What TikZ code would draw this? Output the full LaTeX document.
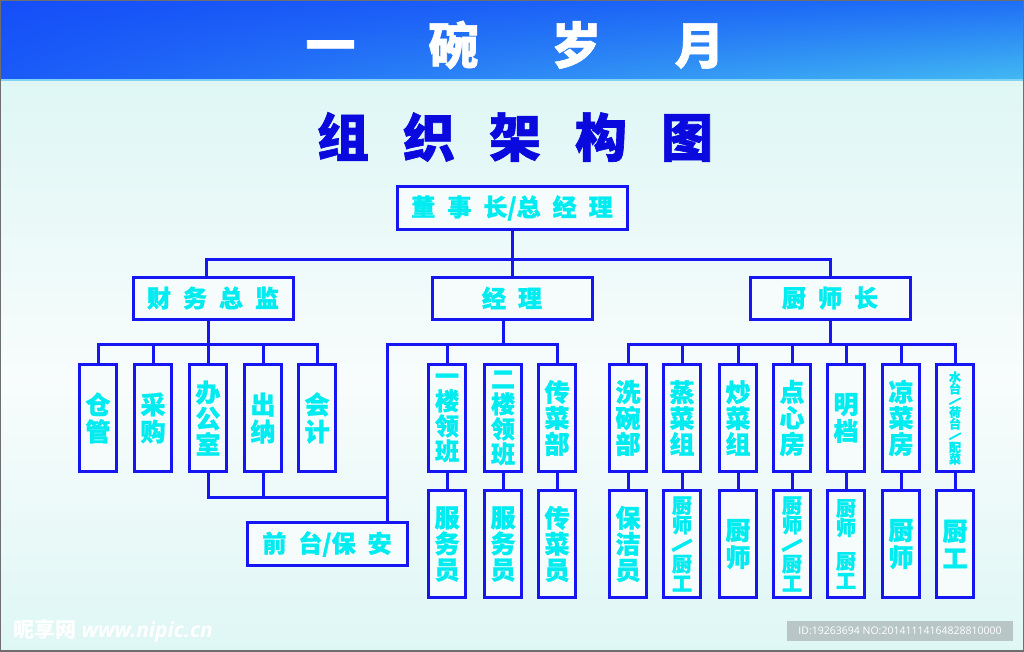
\documentclass[tikz,border=0pt]{standalone}
\usepackage{fontspec}
\usetikzlibrary{shadings}
\newfontfamily\cjk[BoldFeatures={FakeBold=1.2}]{Noto Sans CJK SC}
\newfontfamily\idfont{Open Sans}

\definecolor{lineblue}{RGB}{22,22,242}
\definecolor{txtcyan}{RGB}{0,236,240}
\definecolor{titleblue}{RGB}{10,10,222}
\definecolor{boxfill}{RGB}{246,252,252}
\definecolor{bgcyan}{RGB}{222,247,245}
\definecolor{bgwhite}{RGB}{248,252,252}
\definecolor{idgray}{RGB}{184,198,198}
\definecolor{bandul}{RGB}{22,78,248}
\definecolor{bandur}{RGB}{30,110,246}
\definecolor{bandll}{RGB}{26,90,248}
\definecolor{bandlr}{RGB}{66,186,242}
\definecolor{bandline}{RGB}{130,210,245}
\definecolor{edge}{RGB}{110,110,110}

\newcommand{\wfont}{\cjk\bfseries\fontsize{24}{26}\selectfont}
\newcommand{\tfont}{\cjk\bfseries\fontsize{25}{27}\selectfont}
% slash set in a vertical column
\newcommand{\vsl}[2]{\rotatebox{28}{\rule{#1}{#2}}}

\begin{document}
\begin{tikzpicture}[x=1pt, y=-1pt,
    conn/.style={draw=lineblue, line width=3pt},
    wbox/.style={draw=lineblue, line width=3pt, fill=boxfill, minimum width=160pt, minimum height=42pt, inner sep=0pt, text=txtcyan, font=\wfont},
    tbox/.style={draw=lineblue, line width=3pt, fill=boxfill, minimum width=37pt, minimum height=107pt, inner sep=0pt, text=txtcyan, font=\tfont, align=center}]
    \useasboundingbox (0,0) rectangle (1024,651);

    % background and banner
    \shade[top color=bgcyan, bottom color=bgwhite] (0,80) rectangle (1024,380);
    \shade[top color=bgwhite, bottom color=bgcyan] (0,380) rectangle (1024,651);
    \shade[upper left=bandul, upper right=bandur, lower left=bandll, lower right=bandlr] (0,0) rectangle (1024,80);
    \draw[bandline, line width=1.5pt] (0,80) -- (1024,80);
    \draw[edge, line width=2pt] (0,0) rectangle (1024,651);

    \node[text=white, font=\cjk\bfseries\fontsize{50}{50}\selectfont] (band) at (515,45) {一\hspace{73pt}碗\hspace{73pt}岁\hspace{73pt}月};
    \node[text=titleblue, font=\cjk\bfseries\fontsize{52}{52}\selectfont] (title) at (515,137) {组\hspace{34pt}织\hspace{34pt}架\hspace{34pt}构\hspace{34pt}图};

    % top levels
    \node[wbox, minimum width=230pt, minimum height=43pt] (boss) at (512,208) {董\hspace{12pt}事\hspace{12pt}长/总\hspace{12pt}经\hspace{12pt}理};
    \node[wbox] (fin) at (213,298) {财\hspace{12pt}务\hspace{12pt}总\hspace{12pt}监};
    \node[wbox] (mgr) at (512,298) {经\hspace{12pt}理};
    \node[wbox] (chef) at (830,298) {厨\hspace{12pt}师\hspace{12pt}长};

    % finance
    \node[tbox] (store) at (98,418) {仓\\管};
    \node[tbox] (buy) at (153,418) {采\\购};
    \node[tbox, font=\cjk\bfseries\fontsize{25}{26}\selectfont] (office) at (208,418) {办\\公\\室};
    \node[tbox] (cashier) at (263,418) {出\\纳};
    \node[tbox] (account) at (317,418) {会\\计};
    \node[wbox, minimum height=43pt] (desk) at (327,544) {前\hspace{12pt}台/保\hspace{12pt}安};

    % front of house
    \node[tbox, font=\cjk\bfseries\fontsize{24}{25}\selectfont] (floor1) at (447,418) {一\\楼\\领\\班};
    \node[tbox, font=\cjk\bfseries\fontsize{24}{25}\selectfont] (floor2) at (503,418) {二\\楼\\领\\班};
    \node[tbox, font=\cjk\bfseries\fontsize{25}{26}\selectfont] (serve) at (557,418) {传\\菜\\部};
    \node[tbox, font=\cjk\bfseries\fontsize{25}{26}\selectfont] (waiter1) at (447,544) {服\\务\\员};
    \node[tbox, font=\cjk\bfseries\fontsize{25}{26}\selectfont] (waiter2) at (503,544) {服\\务\\员};
    \node[tbox, font=\cjk\bfseries\fontsize{25}{26}\selectfont] (runner) at (557,544) {传\\菜\\员};

    % kitchen
    \node[tbox, font=\cjk\bfseries\fontsize{25}{26}\selectfont] (wash) at (628,418) {洗\\碗\\部};
    \node[tbox, font=\cjk\bfseries\fontsize{25}{26}\selectfont] (steam) at (682,418) {蒸\\菜\\组};
    \node[tbox, font=\cjk\bfseries\fontsize{25}{26}\selectfont] (stir) at (738,418) {炒\\菜\\组};
    \node[tbox, font=\cjk\bfseries\fontsize{25}{26}\selectfont] (dimsum) at (792,418) {点\\心\\房};
    \node[tbox] (open) at (846,418) {明\\档};
    \node[tbox, font=\cjk\bfseries\fontsize{25}{26}\selectfont] (cold) at (901,418) {凉\\菜\\房};
    \node[tbox, font=\cjk\bfseries\fontsize{12}{11.7}\selectfont] (prep) at (955,418) {水\\台\\\vsl{13pt}{1.8pt}\\荷\\台\\\vsl{13pt}{1.8pt}\\配\\菜};
    \node[tbox, font=\cjk\bfseries\fontsize{25}{26}\selectfont] (cleaner) at (628,544) {保\\洁\\员};
    \node[tbox, font=\cjk\bfseries\fontsize{20}{19.5}\selectfont] (steamcook) at (682,544) {厨\\师\\\vsl{22pt}{3.5pt}\\厨\\工};
    \node[tbox] (stircook) at (738,544) {厨\\师};
    \node[tbox, font=\cjk\bfseries\fontsize{20}{19.5}\selectfont] (dimcook) at (792,544) {厨\\师\\\vsl{22pt}{3.5pt}\\厨\\工};
    \node[tbox, font=\cjk\bfseries\fontsize{20}{19.5}\selectfont] (opencook) at (846,544) {厨\\师\\[14pt]厨\\工};
    \node[tbox] (coldcook) at (901,544) {厨\\师};
    \node[tbox] (prepcook) at (955,544) {厨\\工};

    % connectors
    \draw[conn] (boss.south) -- ++(0,28) coordinate (topbar);
    \draw[conn] ([xshift=-7pt]fin.north) |- (topbar) -| (chef.north);
    \draw[conn] (topbar) -- (mgr.north);

    \draw[conn] (fin.south -| office) -- ++(0,24) coordinate (finbar);
    \draw[conn] (store.north) |- (finbar) -| (account.north);
    \foreach \k in {buy,office,cashier}
        \draw[conn] (\k.north) -- (\k.north |- finbar);

    \coordinate (deskx) at (387,0);
    \draw[conn] (mgr.south -| floor2) -- ++(0,24) coordinate (mgrbar);
    \draw[conn] (desk.north -| deskx) |- (mgrbar) -| (serve.north);
    \draw[conn] (floor1.north) -- (floor1.north |- mgrbar);
    \draw[conn] (office.south) -- ++(0,24) coordinate (offbar) -| (desk.north -| deskx);
    \draw[conn] (cashier.south) -- (cashier.south |- offbar);

    \draw[conn] (chef.south) -- ++(0,24) coordinate (chefbar);
    \draw[conn] (wash.north) |- (chefbar) -| (prep.north);
    \foreach \k in {steam,stir,dimsum,open,cold}
        \draw[conn] (\k.north) -- (\k.north |- chefbar);

    \foreach \a/\b in {floor1/waiter1, floor2/waiter2, serve/runner, wash/cleaner, steam/steamcook,
        stir/stircook, dimsum/dimcook, open/opencook, cold/coldcook, prep/prepcook}
        \draw[conn] (\a.south) -- (\b.north);

    % marks at the foot
    \node[text=white, font=\idfont\bfseries\itshape\fontsize{21}{21}\selectfont] (mark) at (113,631) {{\cjk 昵享网} www.nipic.cn};
    \node[fill=idgray, text=white, font=\idfont\fontsize{10.5}{12}\selectfont, minimum width=226pt, minimum height=20pt, inner sep=0pt] (stamp) at (900,631) {ID:19263694 NO:20141114164828810000};
\end{tikzpicture}
\end{document}
